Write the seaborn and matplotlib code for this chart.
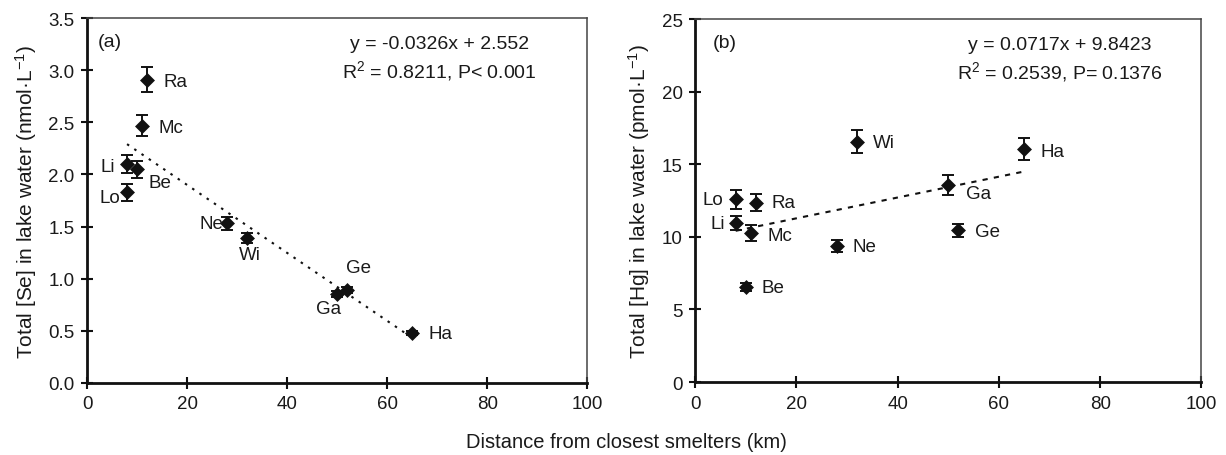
import numpy as np
import pandas as pd
import matplotlib
matplotlib.use("Agg")
import matplotlib.pyplot as plt
import seaborn as sns

# ---------------- data ----------------
lakes_a = ["Ra", "Mc", "Li", "Be", "Lo", "Ne", "Wi", "Ga", "Ge", "Ha"]
dist_a = [12, 11, 8, 10, 8, 28, 32, 50, 52, 65]
se_vals = [2.91, 2.47, 2.10, 2.05, 1.83, 1.53, 1.39, 0.85, 0.89, 0.48]
se_err = [0.12, 0.105, 0.085, 0.08, 0.08, 0.06, 0.05, 0.03, 0.03, 0.02]

lakes_b = ["Lo", "Ra", "Li", "Mc", "Be", "Ne", "Wi", "Ga", "Ge", "Ha"]
dist_b = [8, 12, 8, 11, 10, 28, 32, 50, 52, 65]
hg_vals = [12.6, 12.35, 10.95, 10.25, 6.55, 9.35, 16.55, 13.55, 10.45, 16.05]
hg_err = [0.65, 0.6, 0.5, 0.55, 0.3, 0.4, 0.8, 0.7, 0.45, 0.75]

fit_a = (-0.0326, 2.552)
fit_b = (0.0717, 9.8423)
fit_range = [8, 65]

eq_a = ["y = -0.0326x + 2.552", "R$^2$ = 0.8211, P< 0.001"]
eq_b = ["y = 0.0717x + 9.8423", "R$^2$ = 0.2539, P= 0.1376"]

x_ticks = [0, 20, 40, 60, 80, 100]
y_ticks_a = [0.0, 0.5, 1.0, 1.5, 2.0, 2.5, 3.0, 3.5]
y_ticks_b = [0, 5, 10, 15, 20, 25]

# label offsets (points): style only
off_a = {"Ra": (12, -1.5, "left"), "Mc": (11.5, -1.5, "left"), "Li": (-8.5, -1.5, "right"),
         "Be": (8, -9.5, "left"), "Lo": (-5, -3.5, "right"), "Ne": (-3, 0, "right"),
         "Wi": (2, -12, "center"), "Ga": (-6, -10, "center"), "Ge": (8, 16.5, "center"),
         "Ha": (12, -0.5, "left")}
off_b = {"Lo": (-9, -0.5, "right"), "Ra": (11.5, 0, "left"), "Li": (-8, -0.5, "right"),
         "Mc": (12, -1.5, "left"), "Be": (11.5, -0.5, "left"), "Ne": (11.5, -0.5, "left"),
         "Wi": (11.5, -0.5, "left"), "Ga": (13, -6, "left"), "Ge": (12, -0.5, "left"),
         "Ha": (12, -1.5, "left")}

sns.set_theme(style="white")
plt.rcParams["font.family"] = ["Liberation Sans", "DejaVu Sans"]
plt.rcParams["mathtext.fontset"] = "custom"
plt.rcParams["mathtext.rm"] = "Liberation Sans"
plt.rcParams["mathtext.it"] = "Liberation Sans"

TXT = "#1a1a1a"

fig = plt.figure(figsize=(12.26, 4.56), dpi=100)
ax_a = fig.add_axes([0.071, 0.158, 0.408, 0.800])
ax_b = fig.add_axes([0.567, 0.160, 0.413, 0.796])

def draw(ax, lakes, xs, ys, errs, fit, offs, eq, letter, letter_x, eq_x, yticks, ylim,
         ylabel, yfmt, ls):
    df = pd.DataFrame({"lake": lakes, "dist": xs, "val": ys, "err": errs})
    ax.errorbar(df["dist"], df["val"], yerr=df["err"], fmt="none", ecolor="#111111",
                elinewidth=1.4, capsize=4.5, capthick=1.4, zorder=2)
    sns.scatterplot(data=df, x="dist", y="val", marker="D", s=58, color="#111111",
                    edgecolor="#111111", linewidth=0, ax=ax, zorder=3)
    fx = np.array(fit_range, dtype=float)
    fdf = pd.DataFrame({"x": fx, "y": fit[0] * fx + fit[1]})
    sns.lineplot(data=fdf, x="x", y="y", ax=ax, color="#111111", linewidth=1.5,
                 linestyle=ls, zorder=1)
    for lk, x, y in zip(lakes, xs, ys):
        dx, dy, ha = offs[lk]
        ax.annotate(lk, (x, y), xytext=(dx, dy), textcoords="offset points",
                    ha=ha, va="center", fontsize=13.5, color=TXT)
    ax.text(letter_x, 0.935, letter, transform=ax.transAxes,
            fontsize=14, va="center", ha="left", color=TXT)
    ax.text(eq_x, 0.930, eq[0], transform=ax.transAxes, fontsize=14, ha="center",
            va="center", color=TXT)
    ax.text(eq_x, 0.858, eq[1], transform=ax.transAxes, fontsize=14, ha="center",
            va="center", color=TXT)
    ax.set_xlim(0, 100)
    ax.set_ylim(*ylim)
    ax.set_xticks(x_ticks)
    ax.set_yticks(yticks)
    ax.set_yticklabels([yfmt.format(v) for v in yticks])
    ax.set_xlabel("")
    ax.set_ylabel(ylabel, fontsize=15, color=TXT, labelpad=7)
    ax.tick_params(axis="both", which="major", direction="inout", length=8, width=1.5,
                   color="#111111", labelsize=13.5, labelcolor=TXT, pad=5)
    ax.tick_params(axis="y", left=True)
    ax.tick_params(axis="x", bottom=True)
    for side in ["left", "bottom"]:
        ax.spines[side].set_color("#111111")
        ax.spines[side].set_linewidth(2.0)
    for side in ["top", "right"]:
        ax.spines[side].set_color("#444444")
        ax.spines[side].set_linewidth(1.1)
    ax.grid(False)
    if ax.get_legend():
        ax.get_legend().remove()

draw(ax_a, lakes_a, dist_a, se_vals, se_err, fit_a, off_a, eq_a, "(a)", 0.022, 0.704,
     y_ticks_a, (0, 3.5), "Total [Se] in lake water (nmol·L$^{-1}$)", "{:.1f}",
     (0, (1.2, 3)))
draw(ax_b, lakes_b, dist_b, hg_vals, hg_err, fit_b, off_b, eq_b, "(b)", 0.035, 0.721,
     y_ticks_b, (0, 25), "Total [Hg] in lake water (pmol·L$^{-1}$)", "{:.0f}",
     (0, (2.5, 3)))

fig.text(0.511, 0.030, "Distance from closest smelters (km)", ha="center", va="center",
         fontsize=14.5, color=TXT)

fig.savefig("out.png", dpi=100, facecolor="white")
